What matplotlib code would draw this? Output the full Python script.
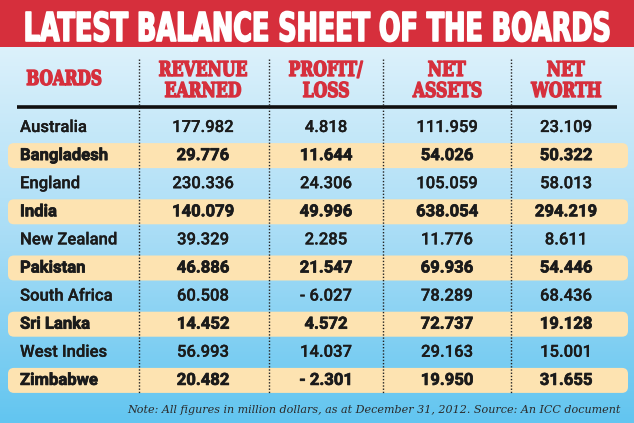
import numpy as np
import matplotlib
matplotlib.use("Agg")
import matplotlib.pyplot as plt
import matplotlib.patheffects as pe
from matplotlib.textpath import TextPath
from matplotlib.font_manager import FontProperties
from matplotlib.patches import PathPatch, FancyBboxPatch, Rectangle
from matplotlib.colors import LinearSegmentedColormap
from matplotlib.transforms import Affine2D

############################
# Data
############################
title = "LATEST BALANCE SHEET OF THE BOARDS"
headers = [["BOARDS"], ["REVENUE", "EARNED"], ["PROFIT/", "LOSS"], ["NET", "ASSETS"], ["NET", "WORTH"]]
boards = ["Australia", "Bangladesh", "England", "India", "New Zealand",
          "Pakistan", "South Africa", "Sri Lanka", "West Indies", "Zimbabwe"]
revenue = [177.982, 29.776, 230.336, 140.079, 39.329, 46.886, 60.508, 14.452, 56.993, 20.482]
profit = [4.818, 11.644, 24.306, 49.996, 2.285, 21.547, -6.027, 4.572, 14.037, -2.301]
assets = [111.959, 54.026, 105.059, 638.054, 11.776, 69.936, 78.289, 72.737, 29.163, 19.950]
worth = [23.109, 50.322, 58.013, 294.219, 8.611, 54.446, 68.436, 19.128, 15.001, 31.655]
note = "Note: All figures in million dollars, as at December 31, 2012. Source: An ICC document"

############################
# Style
############################
W, H = 634, 423
red = "#d62f3c"
beige = "#fde3b1"
ink = "#1b1b1b"
col_x = [20, 203, 326, 447, 566]     # first is left edge, rest are centres
sep_x = [139, 269, 383, 511]
row_y0, row_dy = 127.5, 28.1


def fmt(v):
    return f"- {abs(v):.3f}" if v < 0 else f"{v:.3f}"


def path_text(ax, s, x, y_top, cap, prop, color, width=None, squeeze=1.0, ha="center", lw=0):
    # draw text as a path so it can be condensed to fit a box
    p = TextPath((0, 0), s, size=1, prop=prop)
    ref = TextPath((0, 0), "H", size=1, prop=prop).get_extents()
    bb = p.get_extents()
    sy = cap / ref.height
    sx = width / bb.width if width else sy * squeeze
    w = bb.width * sx
    x0 = x - w / 2 if ha == "center" else x
    tr = Affine2D().translate(-bb.x0, 0).scale(sx, -sy).translate(x0, y_top + cap)
    ax.add_patch(PathPatch(tr.transform_path(p), fc=color, ec=color if lw else "none",
                           lw=lw, joinstyle="round", zorder=4))


fig = plt.figure(figsize=(W / 100, H / 100), dpi=100)
ax = fig.add_axes([0, 0, 1, 1])
ax.set_xlim(0, W)
ax.set_ylim(H, 0)
ax.axis("off")

# background gradient
cmap = LinearSegmentedColormap.from_list("bg", ["#dcf1fb", "#a9ddf6", "#62c5f0"])
ax.imshow(np.linspace(0, 1, 256).reshape(-1, 1), cmap=cmap, aspect="auto",
          extent=[0, W, H, 47], zorder=0)

# title band
ax.add_patch(Rectangle((0, 0), W, 47, fc=red, ec="none", zorder=1))
path_text(ax, title, 26, 12, 29, FontProperties(family="DejaVu Sans", weight="bold"),
          "white", width=583, ha="left", lw=1.2)

# headers
hprop = FontProperties(family="DejaVu Serif", weight="bold")
for j, lines in enumerate(headers):
    if len(lines) == 1:
        path_text(ax, lines[0], 27, 70, 15, hprop, red, width=74, ha="left", lw=1.0)
    else:
        for k, ln in enumerate(lines):
            path_text(ax, ln, col_x[j], 61 + k * 21, 15, hprop, red, squeeze=0.76, lw=1.0)

# black rule and dotted separators
ax.plot([17, 617], [107, 107], color="#111111", lw=2.6, solid_capstyle="butt", zorder=3)
for x in sep_x:
    ax.plot([x, x], [59, 394], color="#222222", lw=1.0, ls=(0, (1, 1.3)), zorder=3)

# rows
for i, name in enumerate(boards):
    y = row_y0 + i * row_dy
    hl = i % 2 == 1
    if hl:
        ax.add_patch(FancyBboxPatch((8, y - 12.5), 620, 25,
                                    boxstyle="round,pad=0,rounding_size=6",
                                    fc=beige, ec="none", zorder=2))
    prop = FontProperties(family="Roboto", size=12, weight="bold" if hl else "medium")
    fx = [pe.withStroke(linewidth=0.5 if hl else 0.2, foreground=ink)]
    kw = dict(fontproperties=prop, color=ink, va="center", zorder=4, path_effects=fx)
    ax.text(col_x[0], y, name, ha="left", **kw)
    for j, vals in enumerate([revenue, profit, assets, worth], start=1):
        ax.text(col_x[j], y, fmt(vals[i]), ha="center", **kw)

# footer
ax.text(621, 410, note, family="DejaVu Serif", style="italic", fontsize=8,
        color="#2a2a2a", ha="right", va="center", zorder=4)

fig.savefig("out.png", dpi=100)
